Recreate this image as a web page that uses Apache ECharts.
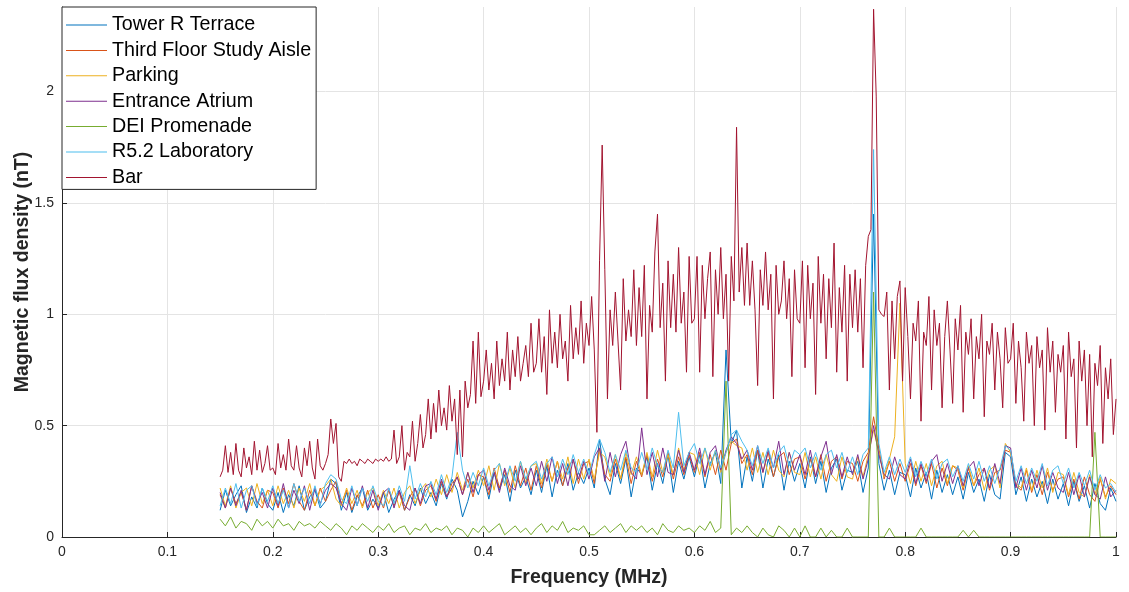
<!DOCTYPE html>
<html>
<head>
<meta charset="utf-8">
<script src="https://cdn.jsdelivr.net/npm/echarts@6/dist/echarts.min.js"></script>
<style>
  html, body { margin: 0; padding: 0; background: #fff; }
  #chart { width: 1129px; height: 592px; }
</style>
</head>
<body>
<div id="chart"></div>
<script>
// Frequency sampling grids (MHz)
const freqStart = 0.15;
const stepFine = 0.0025;   // Bar trace
const stepBand = 0.005;    // other locations

const xTicks = ['0', '0.1', '0.2', '0.3', '0.4', '0.5', '0.6', '0.7', '0.8', '0.9', '1'];
const yTicks = ['0', '0.5', '1', '1.5', '2'];

const seriesNames = ['Tower R Terrace', 'Third Floor Study Aisle', 'Parking',
  'Entrance Atrium', 'DEI Promenade', 'R5.2 Laboratory', 'Bar'];

// Magnetic flux density (nT), one row per 0.05 MHz
const towerR = [
  0.12,0.21,0.14,0.19,0.23,0.11,0.18,0.13,0.22,0.15,
  0.12,0.20,0.11,0.19,0.14,0.23,0.12,0.18,0.21,0.13,
  0.16,0.26,0.24,0.12,0.20,0.11,0.18,0.22,0.12,0.17,
  0.13,0.20,0.11,0.17,0.21,0.12,0.19,0.14,0.22,0.15,
  0.20,0.14,0.24,0.17,0.26,0.21,0.09,0.16,0.25,0.19,
  0.27,0.17,0.29,0.21,0.28,0.16,0.30,0.22,0.27,0.19,
  0.30,0.20,0.32,0.18,0.30,0.23,0.33,0.21,0.29,0.24,
  0.31,0.22,0.44,0.26,0.19,0.33,0.24,0.35,0.18,0.31,
  0.28,0.36,0.21,0.33,0.24,0.37,0.20,0.34,0.26,0.36,
  0.27,0.37,0.22,0.33,0.38,0.24,0.84,0.42,0.48,0.22,
  0.36,0.25,0.39,0.22,0.35,0.27,0.37,0.21,0.34,0.25,
  0.33,0.22,0.36,0.24,0.34,0.20,0.31,0.35,0.21,0.30,
  0.29,0.34,0.20,0.31,1.45,0.33,0.21,0.30,0.19,0.29,
  0.28,0.18,0.31,0.22,0.29,0.17,0.30,0.20,0.28,0.19,
  0.27,0.17,0.29,0.20,0.26,0.16,0.28,0.19,0.17,0.38,
  0.36,0.19,0.27,0.16,0.26,0.18,0.25,0.15,0.26,0.17,
  0.24,0.14,0.25,0.16,0.23,0.13,0.24,0.15,0.12,0.22,
  0.16
];
const thirdFloor = [
  0.19,0.13,0.22,0.15,0.20,0.12,0.23,0.16,0.13,0.21,
  0.20,0.13,0.22,0.15,0.24,0.16,0.12,0.21,0.14,0.22,
  0.16,0.21,0.25,0.15,0.21,0.12,0.19,0.14,0.21,0.13,
  0.19,0.13,0.21,0.14,0.20,0.12,0.18,0.22,0.14,0.21,
  0.23,0.16,0.25,0.18,0.24,0.27,0.19,0.26,0.18,0.28,
  0.27,0.19,0.31,0.22,0.30,0.20,0.32,0.23,0.31,0.21,
  0.32,0.22,0.33,0.25,0.34,0.23,0.31,0.35,0.24,0.33,
  0.34,0.24,0.40,0.28,0.25,0.35,0.26,0.36,0.24,0.34,
  0.27,0.37,0.25,0.35,0.27,0.38,0.26,0.36,0.28,0.37,
  0.29,0.38,0.27,0.37,0.28,0.39,0.30,0.42,0.44,0.33,
  0.37,0.28,0.39,0.29,0.38,0.27,0.36,0.38,0.28,0.35,
  0.36,0.26,0.35,0.27,0.37,0.25,0.34,0.36,0.26,0.34,
  0.33,0.25,0.34,0.38,0.54,0.40,0.26,0.34,0.25,0.33,
  0.25,0.33,0.23,0.32,0.24,0.33,0.22,0.31,0.23,0.32,
  0.30,0.21,0.31,0.23,0.28,0.31,0.21,0.29,0.30,0.39,
  0.38,0.23,0.21,0.30,0.20,0.28,0.19,0.29,0.21,0.26,
  0.27,0.18,0.26,0.17,0.27,0.19,0.16,0.26,0.18,0.23,
  0.19
];
const parking = [
  0.22,0.14,0.23,0.13,0.20,0.22,0.14,0.24,0.15,0.21,
  0.14,0.23,0.15,0.21,0.13,0.22,0.16,0.24,0.14,0.21,
  0.23,0.26,0.17,0.14,0.22,0.15,0.21,0.13,0.20,0.22,
  0.14,0.21,0.15,0.22,0.13,0.20,0.23,0.15,0.21,0.24,
  0.18,0.26,0.19,0.28,0.20,0.29,0.21,0.29,0.22,0.30,
  0.23,0.32,0.21,0.33,0.23,0.31,0.22,0.34,0.24,0.32,
  0.33,0.24,0.35,0.25,0.34,0.26,0.36,0.24,0.35,0.26,
  0.35,0.26,0.38,0.36,0.27,0.37,0.26,0.38,0.28,0.36,
  0.28,0.38,0.27,0.39,0.29,0.37,0.28,0.40,0.30,0.38,
  0.37,0.28,0.40,0.30,0.39,0.29,0.38,0.43,0.41,0.40,
  0.30,0.40,0.29,0.38,0.28,0.39,0.30,0.27,0.38,0.29,
  0.28,0.38,0.27,0.36,0.26,0.37,0.28,0.25,0.36,0.27,
  0.26,0.36,0.27,0.37,0.48,0.38,0.27,0.35,0.45,1.05,
  0.33,0.24,0.34,0.25,0.33,0.23,0.32,0.34,0.24,0.32,
  0.31,0.22,0.32,0.23,0.31,0.21,0.30,0.32,0.22,0.42,
  0.38,0.24,0.22,0.31,0.21,0.30,0.22,0.31,0.20,0.29,
  0.28,0.19,0.29,0.20,0.18,0.28,0.19,0.27,0.17,0.26,
  0.24
];
const entranceAtrium = [
  0.20,0.13,0.22,0.14,0.21,0.12,0.23,0.15,0.20,0.13,
  0.22,0.14,0.24,0.13,0.21,0.15,0.23,0.12,0.22,0.15,
  0.21,0.24,0.22,0.15,0.12,0.22,0.14,0.23,0.13,0.21,
  0.12,0.20,0.22,0.13,0.21,0.14,0.12,0.22,0.15,0.23,
  0.24,0.17,0.26,0.18,0.22,0.27,0.19,0.29,0.20,0.28,
  0.30,0.21,0.29,0.20,0.31,0.23,0.21,0.32,0.23,0.31,
  0.23,0.34,0.25,0.36,0.24,0.33,0.23,0.35,0.26,0.34,
  0.26,0.36,0.40,0.25,0.38,0.27,0.37,0.43,0.29,0.26,
  0.49,0.28,0.38,0.27,0.40,0.29,0.28,0.39,0.29,0.38,
  0.30,0.40,0.28,0.38,0.41,0.30,0.39,0.45,0.42,0.35,
  0.39,0.30,0.41,0.29,0.39,0.31,0.43,0.28,0.38,0.30,
  0.37,0.28,0.39,0.27,0.36,0.43,0.28,0.37,0.27,0.36,
  0.28,0.37,0.26,0.35,0.50,0.37,0.28,0.26,0.36,0.28,
  0.26,0.35,0.24,0.33,0.25,0.34,0.37,0.25,0.33,0.24,
  0.32,0.23,0.31,0.34,0.23,0.31,0.22,0.33,0.24,0.41,
  0.40,0.22,0.31,0.21,0.30,0.22,0.32,0.21,0.29,0.22,
  0.20,0.29,0.19,0.28,0.18,0.27,0.19,0.17,0.27,0.18,
  0.21
];
const deiPromenade = [
  0.08,0.05,0.09,0.04,0.07,0.06,0.03,0.08,0.05,0.07,
  0.04,0.08,0.05,0.06,0.03,0.07,0.05,0.06,0.04,0.07,
  0.05,0.03,0.06,0.04,0.01,0.05,0.03,0.06,0.04,0.02,
  0.05,0.03,0.06,0.02,0.04,0.05,0.01,0.04,0.03,0.06,
  0.02,0.04,0.03,0.05,0.01,0.04,0.03,0.00,0.04,0.02,
  0.05,0.02,0.04,0.06,0.01,0.03,0.05,0.02,0.04,0.01,
  0.04,0.06,0.02,0.05,0.03,0.07,0.02,0.04,0.03,0.05,
  0.01,0.01,0.03,0.05,0.02,0.04,0.06,0.02,0.05,0.03,
  0.05,0.02,0.04,0.01,0.06,0.03,0.02,0.05,0.03,0.04,
  0.02,0.05,0.03,0.07,0.02,0.04,0.70,0.01,0.04,0.02,
  0.05,0.02,0.00,0.04,0.01,0.00,0.05,0.03,0.00,0.04,
  0.00,0.05,0.00,0.00,0.04,0.00,0.03,0.00,0.00,0.04,
  0.00,0.00,0.00,0.00,1.10,0.00,0.00,0.04,0.00,0.00,
  0.00,0.00,0.00,0.04,0.00,0.00,0.00,0.00,0.00,0.00,
  0.00,0.03,0.00,0.03,0.00,0.00,0.00,0.00,0.00,0.00,
  0.00,0.00,0.00,0.00,0.00,0.00,0.00,0.00,0.00,0.00,
  0.00,0.00,0.00,0.00,0.00,0.00,0.47,0.00,0.00,0.00,
  0.00
];
const r52Laboratory = [
  0.14,0.22,0.15,0.24,0.13,0.21,0.23,0.14,0.22,0.16,
  0.23,0.15,0.21,0.13,0.24,0.16,0.22,0.15,0.23,0.14,
  0.24,0.28,0.26,0.17,0.15,0.23,0.14,0.22,0.16,0.23,
  0.16,0.14,0.22,0.15,0.23,0.16,0.32,0.17,0.24,0.18,
  0.25,0.19,0.28,0.20,0.27,0.47,0.30,0.22,0.29,0.23,
  0.31,0.23,0.30,0.33,0.24,0.32,0.25,0.34,0.26,0.32,
  0.34,0.26,0.33,0.36,0.27,0.35,0.28,0.37,0.29,0.35,
  0.28,0.37,0.44,0.38,0.29,0.37,0.30,0.39,0.31,0.29,
  0.38,0.30,0.40,0.32,0.29,0.39,0.31,0.56,0.32,0.38,
  0.42,0.33,0.40,0.32,0.39,0.31,0.38,0.46,0.48,0.43,
  0.39,0.32,0.41,0.33,0.40,0.31,0.38,0.41,0.32,0.39,
  0.37,0.40,0.31,0.38,0.30,0.37,0.39,0.31,0.38,0.29,
  0.36,0.28,0.37,0.40,1.74,0.42,0.29,0.36,0.28,0.35,
  0.29,0.36,0.27,0.34,0.28,0.35,0.26,0.33,0.35,0.27,
  0.32,0.25,0.33,0.26,0.34,0.25,0.32,0.24,0.31,0.41,
  0.39,0.25,0.32,0.24,0.31,0.25,0.33,0.23,0.30,0.32,
  0.24,0.31,0.22,0.29,0.23,0.30,0.21,0.28,0.22,0.24,
  0.20
];
// Bar, finer sampling: one row per 0.05 MHz
const bar = [
  0.27,0.30,0.41,0.29,0.38,0.28,0.42,0.30,0.27,0.40,0.31,0.36,0.28,0.43,0.30,0.39,0.29,0.33,0.41,0.30,
  0.31,0.28,0.42,0.31,0.37,0.30,0.44,0.32,0.30,0.41,0.31,0.27,0.40,0.32,0.43,0.31,0.26,0.44,0.32,0.30,
  0.33,0.37,0.53,0.42,0.51,0.27,0.25,0.34,0.33,0.35,0.33,0.34,0.32,0.35,0.34,0.33,0.35,0.34,0.33,0.35,
  0.34,0.35,0.34,0.36,0.34,0.35,0.48,0.33,0.36,0.50,0.30,0.38,0.36,0.52,0.34,0.42,0.55,0.40,0.46,0.62,
  0.44,0.60,0.47,0.66,0.50,0.58,0.48,0.68,0.52,0.62,0.37,0.66,0.36,0.70,0.58,0.64,0.88,0.60,0.92,0.63,
  0.70,0.84,0.66,0.78,0.62,0.88,0.68,0.80,0.70,0.92,0.66,0.84,0.72,0.90,0.70,0.78,0.86,0.72,0.96,0.74,
  0.78,0.98,0.74,0.90,0.64,1.02,0.78,0.92,0.76,1.00,0.80,0.88,0.70,1.04,0.80,0.94,0.82,1.06,0.78,0.96,
  0.86,1.08,0.84,0.47,1.24,1.76,1.20,0.62,1.02,0.86,1.10,0.88,0.66,1.16,0.88,1.02,0.90,1.20,0.86,1.12,
  0.90,1.22,0.62,1.04,0.92,1.28,1.45,0.94,1.14,0.70,1.24,0.94,1.18,0.92,1.30,0.96,1.10,0.74,1.26,0.96,
  0.98,1.26,0.74,1.22,0.98,1.16,1.28,0.72,1.20,1.00,1.30,0.98,1.18,0.70,1.26,1.06,1.84,1.10,1.30,1.04,
  1.32,1.04,1.24,1.02,0.68,1.20,1.04,1.28,1.02,1.18,0.62,1.22,1.00,1.06,1.24,0.98,1.16,0.72,1.20,0.98,
  0.96,1.24,0.76,1.22,0.98,1.14,0.64,1.26,0.96,1.18,0.80,1.16,0.94,1.32,0.74,1.12,0.92,1.22,0.70,1.18,
  0.94,1.20,0.92,1.16,0.76,1.22,1.35,1.38,2.37,1.98,1.02,1.00,0.99,1.10,0.66,1.06,0.80,1.08,1.15,0.70,
  1.12,0.90,0.62,0.96,0.88,1.06,0.52,0.92,0.86,1.08,0.66,1.02,0.86,0.96,0.58,0.90,1.06,0.84,0.60,0.98,
  0.84,1.04,0.56,0.92,0.82,0.98,0.62,0.90,0.80,1.00,0.54,0.88,0.82,0.96,0.66,0.92,0.80,0.58,0.94,0.78,
  0.80,0.96,0.60,0.88,0.76,0.52,0.92,0.78,0.86,0.50,0.90,0.76,0.84,0.48,0.94,0.74,0.88,0.56,0.82,0.74,
  0.86,0.44,0.92,0.72,0.80,0.40,0.88,0.70,0.84,0.50,0.82,0.36,0.78,0.68,0.86,0.42,0.76,0.62,0.80,0.46,
  0.62
];

const palette = ['#0072BD', '#D95319', '#EDB120', '#7E2F8E', '#77AC30', '#4DBEEE', '#A2142F'];
const inkColor = '#262626';
const gridColor = '#e4e4e4';
const fontFamily = "'Liberation Sans', Arial, Helvetica, sans-serif";
const yMax = 2.38;

function pairs(values, step) {
  return values.map((v, i) => [+(freqStart + i * step).toFixed(5), v]);
}

const traces = [
  pairs(towerR, stepBand),
  pairs(thirdFloor, stepBand),
  pairs(parking, stepBand),
  pairs(entranceAtrium, stepBand),
  pairs(deiPromenade, stepBand),
  pairs(r52Laboratory, stepBand),
  pairs(bar, stepFine)
];

const chart = echarts.init(document.getElementById('chart'), null, { renderer: 'canvas' });

chart.setOption({
  animation: false,
  color: palette,
  grid: { left: 62, right: 13, top: 7, bottom: 55, containLabel: false, outerBoundsMode: 'none' },
  legend: {
    orient: 'vertical',
    left: 62,
    top: 7,
    padding: [8, 5, 2, 4],
    itemGap: 5.4,
    itemWidth: 41,
    itemHeight: 1,
    icon: 'rect',
    backgroundColor: '#ffffff',
    borderColor: inkColor,
    borderWidth: 1,
    borderRadius: 0,
    textStyle: { fontFamily, fontSize: 19.7, lineHeight: 20, color: '#000000' },
    data: seriesNames
  },
  xAxis: {
    type: 'value',
    min: 0,
    max: 1,
    interval: 0.1,
    name: 'Frequency (MHz)',
    nameLocation: 'middle',
    nameGap: 31,
    nameMoveOverlap: false,
    nameTextStyle: { fontFamily, fontSize: 19.5, fontWeight: 'bold', color: inkColor },
    axisLine: { show: true, lineStyle: { color: inkColor, width: 1 } },
    axisTick: { show: true, inside: true, length: 5, lineStyle: { color: inkColor } },
    axisLabel: {
      fontFamily, fontSize: 14, color: inkColor, margin: 8,
      formatter: (v) => xTicks[Math.round(v * 10)] ?? ''
    },
    splitLine: { show: true, lineStyle: { color: gridColor, width: 1 } }
  },
  yAxis: {
    type: 'value',
    min: 0,
    max: yMax,
    interval: 0.5,
    name: 'Magnetic flux density (nT)',
    nameLocation: 'middle',
    nameGap: 29,
    nameMoveOverlap: false,
    nameTextStyle: { fontFamily, fontSize: 19.5, fontWeight: 'bold', color: inkColor },
    axisLine: { show: true, lineStyle: { color: inkColor, width: 1 } },
    axisTick: { show: true, inside: true, length: 5, lineStyle: { color: inkColor } },
    axisLabel: {
      fontFamily, fontSize: 14, color: inkColor, margin: 8,
      showMaxLabel: false,
      formatter: (v) => {
        const k = Math.round(v * 2);
        return Math.abs(v * 2 - k) < 1e-6 ? (yTicks[k] ?? '') : '';
      }
    },
    splitLine: {
      show: true,
      lineStyle: { color: [gridColor, gridColor, gridColor, gridColor, gridColor, 'rgba(0,0,0,0)'], width: 1 }
    }
  },
  series: seriesNames.map((name, k) => ({
    name,
    type: 'line',
    data: traces[k],
    symbol: 'none',
    showSymbol: false,
    clip: true,
    lineStyle: { width: 1 },
    emphasis: { disabled: true }
  }))
});
</script>
</body>
</html>
